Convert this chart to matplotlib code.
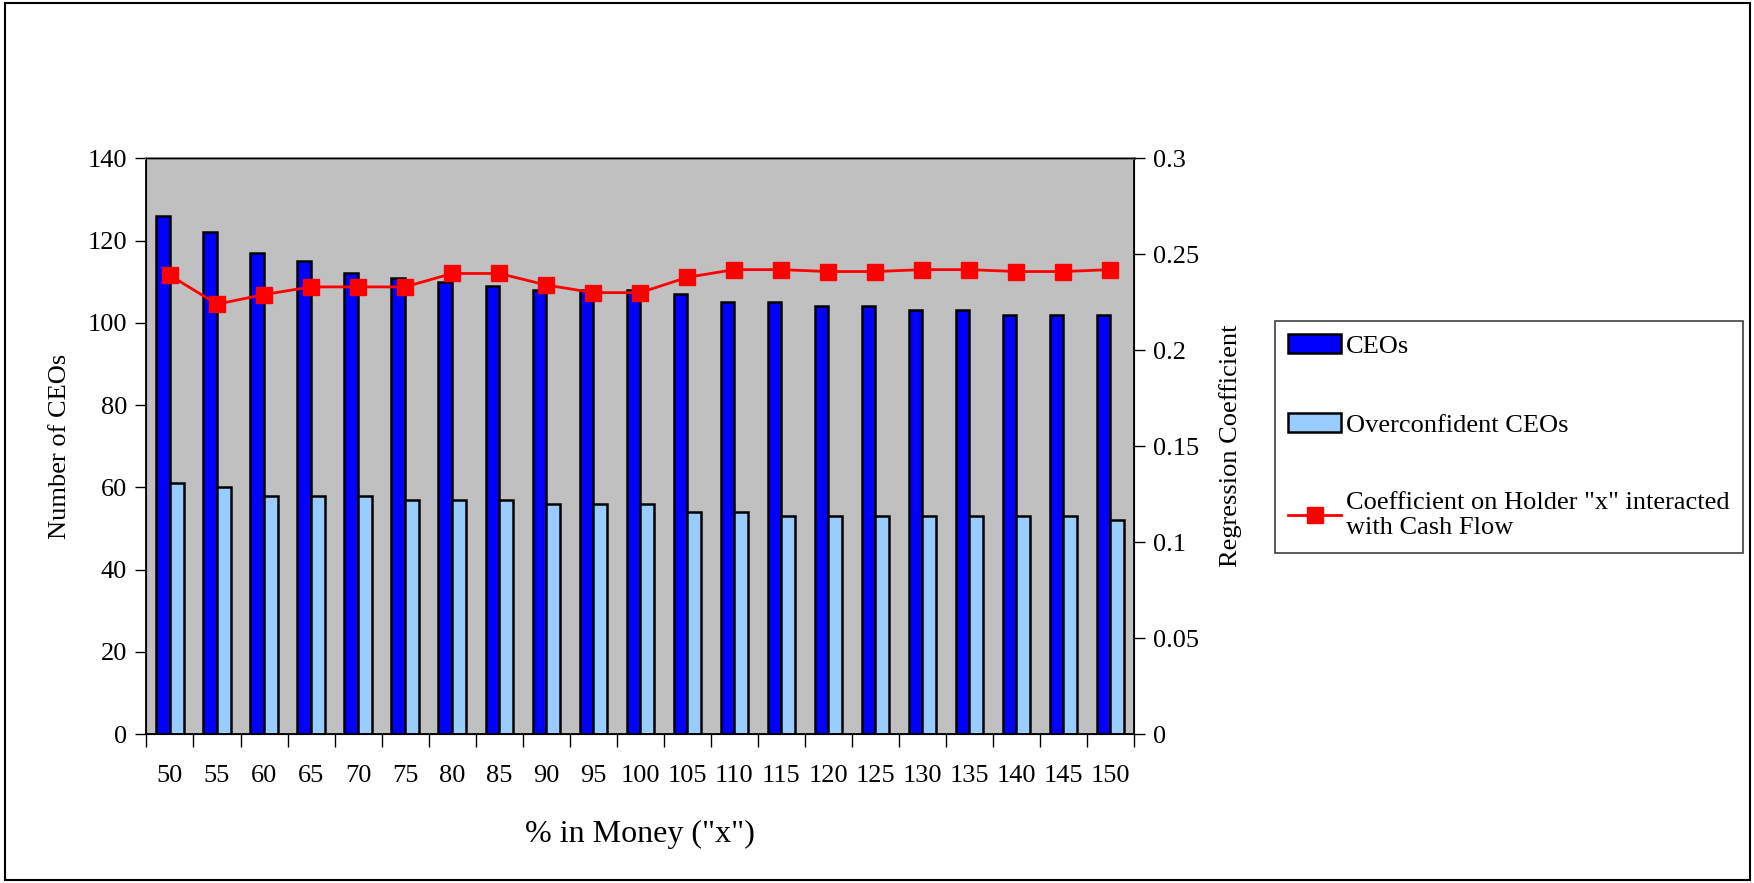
'''
CEOs and regression coefficient by % in money
'''
#imports
import numpy as np
import matplotlib.pyplot as plt
from matplotlib.patches import Rectangle
from matplotlib.ticker import FixedLocator

plt.rcParams['font.family'] = ['Liberation Serif', 'DejaVu Serif']

# data
pct_money = ['50', '55', '60', '65', '70', '75', '80', '85', '90', '95', '100',
             '105', '110', '115', '120', '125', '130', '135', '140', '145', '150']
ceos = [126, 122, 117, 115, 112, 111, 110, 109, 108, 108, 108,
        107, 105, 105, 104, 104, 103, 103, 102, 102, 102]
overconfident = [61, 60, 58, 58, 58, 57, 57, 57, 56, 56, 56,
                 54, 54, 53, 53, 53, 53, 53, 53, 53, 52]
coefficient = [0.239, 0.224, 0.229, 0.233, 0.233, 0.233, 0.240, 0.240, 0.234, 0.230, 0.230,
               0.238, 0.242, 0.242, 0.241, 0.241, 0.242, 0.242, 0.241, 0.241, 0.242]
left_ticks = [0, 20, 40, 60, 80, 100, 120, 140]
right_ticks = [0, 0.05, 0.1, 0.15, 0.2, 0.25, 0.3]
right_labels = ['0', '0.05', '0.1', '0.15', '0.2', '0.25', '0.3']

fs = 19

fig = plt.figure(figsize=(17.54, 8.83), dpi=100)
ax = fig.add_axes([0.0835, 0.1687, 0.563, 0.652])
ax.set_facecolor('#C0C0C0')

x = np.arange(len(pct_money))
w = 0.29
b1 = ax.bar(x - w/2, ceos, w, color='#0000FF', edgecolor='black', linewidth=1.8, label='CEOs')
b2 = ax.bar(x + w/2, overconfident, w, color='#99CCFF', edgecolor='black', linewidth=1.8,
            label='Overconfident CEOs')

ax.set_xlim(-0.5, len(pct_money) - 0.5)
ax.set_ylim(0, 140)
ax.set_yticks(left_ticks)
ax.set_xticks(x)
ax.set_xticklabels(pct_money)
ax.xaxis.set_minor_locator(FixedLocator(np.arange(-0.5, len(pct_money), 1.0)))
ax.tick_params(axis='x', which='major', length=0, pad=22, labelsize=fs)
ax.tick_params(axis='x', which='minor', length=9, direction='out', width=1)
ax.tick_params(axis='y', length=8, width=1, labelsize=fs, pad=6)
ax.set_ylabel('Number of CEOs', fontsize=fs, labelpad=12)
ax.set_xlabel('% in Money ("x")', fontsize=23, labelpad=24)
ax.spines['top'].set_color('#808080')
ax.spines['top'].set_linewidth(2)
for s in ['left', 'bottom', 'right']:
    ax.spines[s].set_linewidth(1.3)

ax2 = ax.twinx()
ln, = ax2.plot(x, coefficient, color='#FF0000', linewidth=2, marker='s', markersize=11,
               label='Coefficient on Holder "x" interacted\nwith Cash Flow')
ax2.set_ylim(0, 0.3)
ax2.set_yticks(right_ticks)
ax2.set_yticklabels(right_labels)
ax2.tick_params(axis='y', length=8, width=1, labelsize=fs, pad=6)
ax2.set_ylabel('Regression Coefficient', fontsize=fs, labelpad=14)

leg = fig.legend(handles=[b1, b2, ln], loc='upper left',
                 bbox_to_anchor=(1275/1754, 1 - 321/883), fontsize=fs,
                 frameon=True, fancybox=False, edgecolor='#404040', framealpha=1,
                 labelspacing=2.1, handlelength=2.0, handletextpad=0.2, borderpad=0.5,
                 borderaxespad=0)
leg.get_frame().set_linewidth(1.2)

# border round the whole figure
fig.patches.append(Rectangle((5/1754, 3/883), 1 - 9/1754, 1 - 6/883, transform=fig.transFigure,
                             fill=False, edgecolor='black', linewidth=1.5))

fig.savefig('out.png', dpi=100)
